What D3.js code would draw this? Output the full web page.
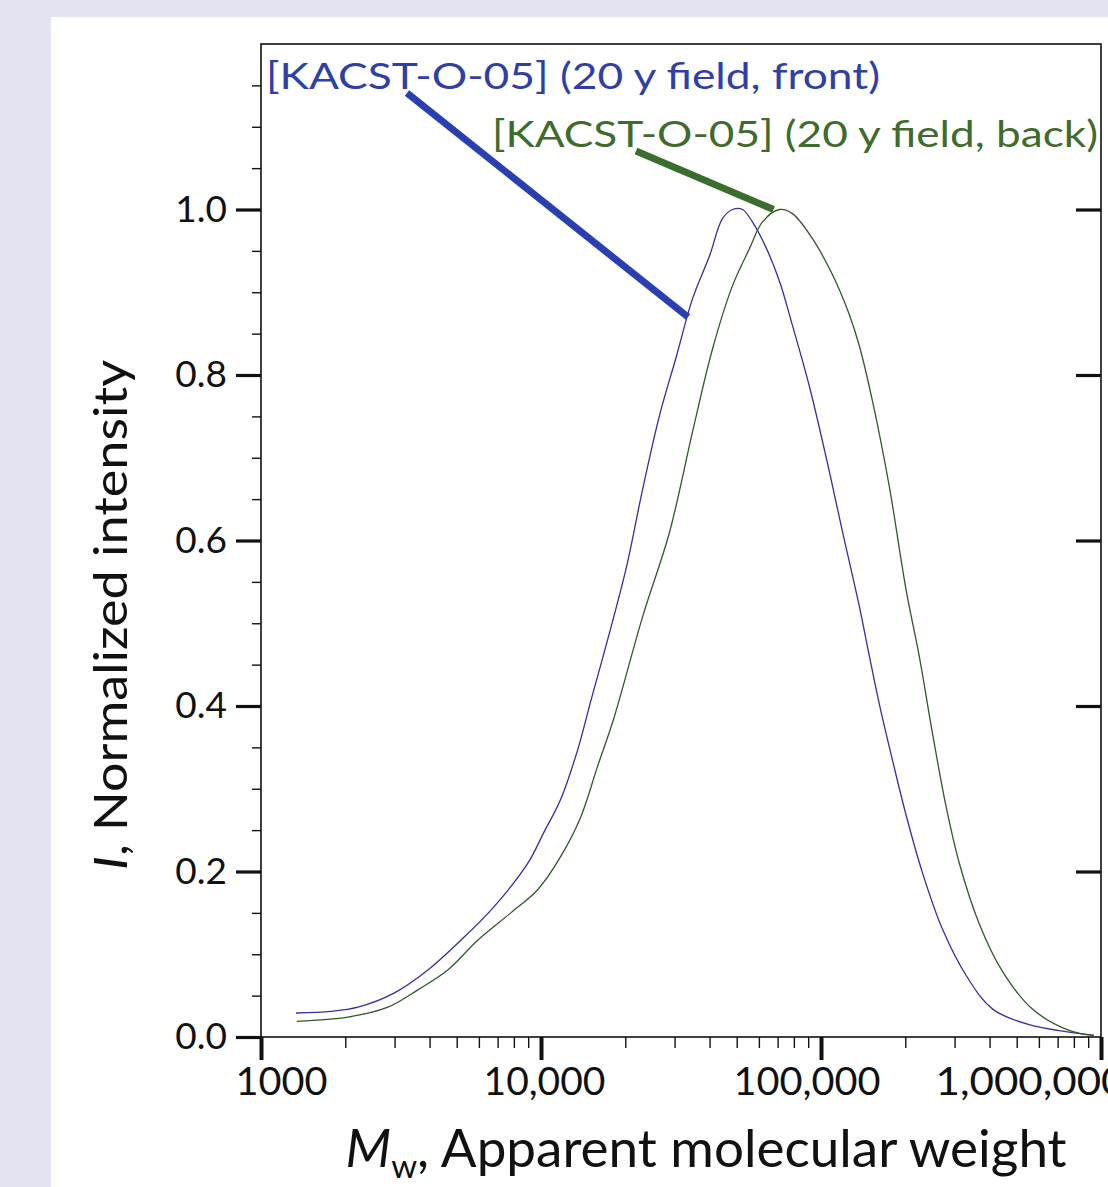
<!DOCTYPE html>
<html><head><meta charset="utf-8">
<script src="https://cdn.jsdelivr.net/npm/d3@7"></script>
<style>
html,body{margin:0;padding:0;background:#e3e4f1;}
svg{display:block;}
text{font-family:Lato,"Open Sans",sans-serif;}
</style></head>
<body>
<svg id="c" width="1108" height="1187"></svg>
<script>
// ---- data ----
const frontMw = [1334,1778,2218,2985,3945,5176,6776,8974,10230,11750,13520,15030,17580,20230,23070,26490,30480,34750,39990,44460,48310,52480,56890,63830,71120,79070,90780,104400,119100,137100,148900,161400,179900,201400,230100,271000,330400,409300,553400,769100,944100];
const frontI  = [0.029,0.031,0.036,0.053,0.081,0.117,0.157,0.210,0.247,0.287,0.347,0.405,0.489,0.569,0.662,0.751,0.823,0.892,0.944,0.989,1.000,1.000,0.985,0.953,0.913,0.860,0.787,0.700,0.612,0.520,0.460,0.403,0.335,0.268,0.199,0.131,0.074,0.034,0.015,0.006,0.002];
const backMw  = [1343,2042,2838,3631,4645,5943,7798,9727,11750,13870,15920,18160,23070,28770,34750,41020,48310,55590,61800,71120,79070,93110,109600,125900,137100,152800,175400,201400,224400,249500,279900,311900,367300,443600,567500,769100,944100];
const backI   = [0.019,0.024,0.036,0.057,0.081,0.117,0.150,0.178,0.218,0.266,0.327,0.384,0.508,0.610,0.731,0.832,0.908,0.953,0.985,1.000,0.995,0.965,0.922,0.874,0.835,0.768,0.665,0.540,0.460,0.369,0.278,0.210,0.137,0.080,0.034,0.008,0.002];
const xTickValues = [1000,10000,100000,1000000];
const xTickLabels = ["1000","10,000","100,000","1,000,000"];
const yTickValues = [0,0.2,0.4,0.6,0.8,1.0];
const yTickLabels = ["0.0","0.2","0.4","0.6","0.8","1.0"];
const seriesNames = ["[KACST-O-05] (20 y field, front)","[KACST-O-05] (20 y field, back)"];
const seriesColors = ["#3a2c9e","#2f5a2a"];
const labelColors = ["#2f3fa6","#3f6b2c"];
const pointerColors = ["#2b40b0","#3b6e2c"];

// ---- layout ----
const svg = d3.select("#c");
svg.append("rect").attr("x",51).attr("y",17).attr("width",1108-51).attr("height",1187-17).attr("fill","#ffffff");

const L=261,T=44,R=1101,B=1037;
const x = d3.scaleLog().domain([1000,1000000]).range([L,R]);
const y = d3.scaleLinear().domain([0,1.2]).range([B,T]);

const g = svg.append("g");

// frame
g.append("rect").attr("x",L).attr("y",T).attr("width",R-L).attr("height",B-T)
 .attr("fill","none").attr("stroke","#111").attr("stroke-width",1.6);

// left axis: majors + minors
const yAxisMajor = d3.axisLeft(y).tickValues(yTickValues).tickSize(25).tickFormat((d,i)=>yTickLabels[i]).tickPadding(9);
const ga = g.append("g").attr("transform",`translate(${L},0)`).call(yAxisMajor);
ga.select(".domain").remove();
ga.selectAll(".tick line").attr("stroke","#111").attr("stroke-width",3.2);
ga.selectAll(".tick text").attr("font-size",37).attr("fill","#111").attr("font-family","Lato,sans-serif");

const minorY = d3.range(1,24).map(i=>i*0.05).filter(v=>Math.abs(v*5-Math.round(v*5))>1e-6);
const gm = g.append("g").attr("transform",`translate(${L},0)`).call(d3.axisLeft(y).tickValues(minorY).tickSize(9).tickFormat(""));
gm.select(".domain").remove();
gm.selectAll(".tick line").attr("stroke","#111").attr("stroke-width",1.4);

// right axis majors (inward)
const gr = g.append("g").attr("transform",`translate(${R},0)`).call(d3.axisLeft(y).tickValues(yTickValues.slice(1)).tickSize(25).tickFormat(""));
gr.select(".domain").remove();
gr.selectAll(".tick line").attr("stroke","#111").attr("stroke-width",3.2);

// bottom axis
const xLabelDx = [-26,-58,-88,-166];   // label start relative to tick (as in the reference)
const xLabelLen = [92,122,147,190];
const gx = g.append("g").attr("transform",`translate(0,${B})`).call(
  d3.axisBottom(x).tickValues(xTickValues).tickSize(23).tickPadding(6).tickFormat((d,i)=>xTickLabels[i]));
gx.select(".domain").remove();
gx.selectAll(".tick line").attr("stroke","#111").attr("stroke-width",4);
gx.selectAll(".tick text").attr("font-size",38).attr("fill","#111").attr("font-family","Lato,sans-serif")
  .attr("text-anchor","start").attr("dy",null).attr("y",58)
  .attr("x",(d,i)=>xLabelDx[i])
  .attr("textLength",(d,i)=>xLabelLen[i]).attr("lengthAdjust","spacingAndGlyphs");

const minorX = [];
[1000,10000,100000].forEach(d=>{for(let k=2;k<=9;k++) minorX.push(d*k);});
const gxm = g.append("g").attr("transform",`translate(0,${B})`).call(d3.axisBottom(x).tickValues(minorX).tickSize(11).tickFormat(""));
gxm.select(".domain").remove();
gxm.selectAll(".tick line").attr("stroke","#111").attr("stroke-width",1.4);

// curves
const line = d3.line().x(d=>x(d[0])).y(d=>y(d[1])).curve(d3.curveCatmullRom.alpha(0.5));
const series = [d3.zip(frontMw,frontI), d3.zip(backMw,backI)];
series.forEach((s,i)=>{
  g.append("path").datum(s).attr("d",line).attr("fill","none")
   .attr("stroke",seriesColors[i]).attr("stroke-width",1.3);
});

// pointer lines (from label to curve)
g.append("line").attr("x1",407).attr("y1",93)
 .attr("x2",688).attr("y2",y(0.87)).attr("stroke",pointerColors[0]).attr("stroke-width",7);
const pk1 = backMw[backI.indexOf(d3.max(backI))];
g.append("line").attr("x1",636).attr("y1",151)
 .attr("x2",x(pk1)-6).attr("y2",y(1.0)).attr("stroke",pointerColors[1]).attr("stroke-width",7);

// series labels
g.append("text").attr("x",266).attr("y",89).attr("font-size",37).attr("fill",labelColors[0])
 .attr("textLength",614).attr("lengthAdjust","spacingAndGlyphs").text(seriesNames[0]);
g.append("text").attr("x",492).attr("y",147).attr("font-size",37).attr("fill",labelColors[1])
 .attr("textLength",606).attr("lengthAdjust","spacingAndGlyphs").text(seriesNames[1]);

// axis titles
const xt = svg.append("text").attr("x",706).attr("y",1167).attr("text-anchor","middle").attr("font-size",53).attr("fill","#111");
xt.append("tspan").attr("font-style","italic").text("M");
xt.append("tspan").attr("font-size",33).attr("dy",11).text("w");
xt.append("tspan").attr("dy",-11).text(", Apparent molecular weight");

const yt = svg.append("text").attr("transform","translate(127,615) rotate(-90)").attr("text-anchor","middle").attr("font-size",47).attr("fill","#111")
 .attr("textLength",510).attr("lengthAdjust","spacingAndGlyphs");
yt.append("tspan").attr("font-style","italic").text("I");
yt.append("tspan").text(", Normalized intensity");
</script>
</body></html>
